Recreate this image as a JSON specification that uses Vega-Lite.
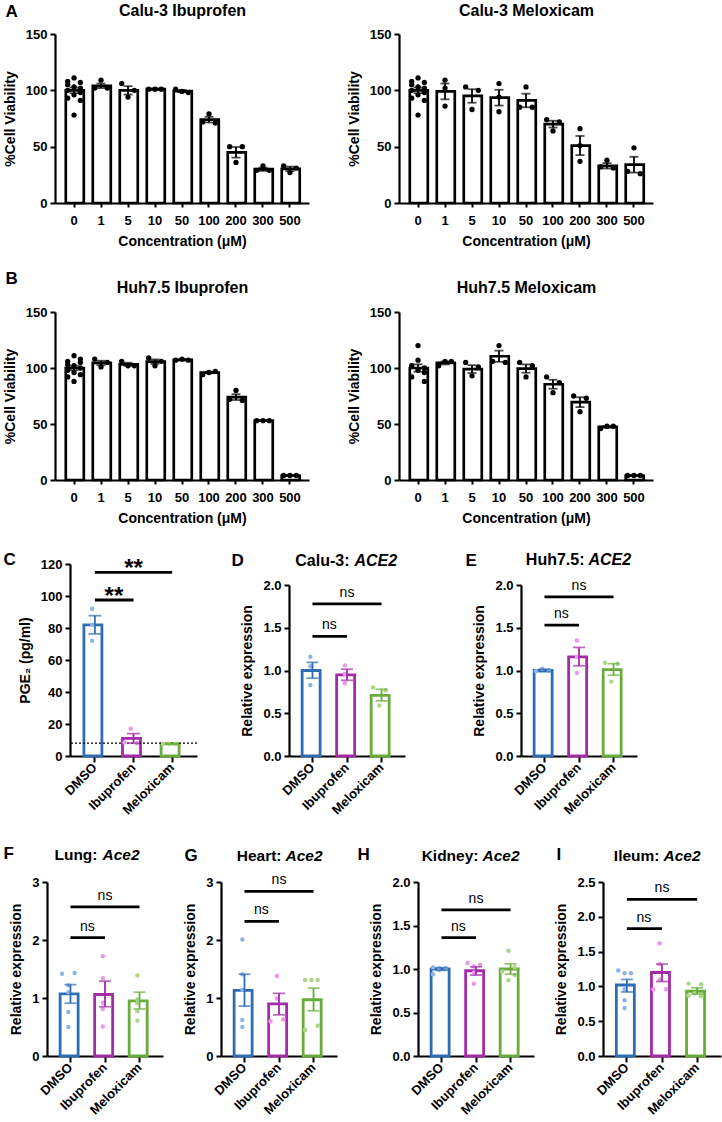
{
"$schema": "https://vega.github.io/schema/vega-lite/v6.json",
"background": "white",
"padding": {"left": 2, "top": 2, "right": 2, "bottom": 2},
"config": {
 "font": "Liberation Sans",
 "view": {"stroke": null},
 "axis": {"domainColor": "black", "domainWidth": 2.2, "tickColor": "black", "tickWidth": 2, "tickSize": 5, "labelFont": "Liberation Sans", "labelFontSize": 13, "labelFontWeight": "bold", "labelColor": "black", "labelPadding": 3, "titleFont": "Liberation Sans", "titleFontSize": 14, "titleFontWeight": "bold", "titleColor": "black", "titlePadding": 8, "grid": false, "labelOverlap": false}
},
"datasets": {
 "bars": [
  {"p":"A1","g":"0","m":100,"lo":97.5,"hi":102.5},{"p":"A1","g":"1","m":104,"lo":102,"hi":106},{"p":"A1","g":"5","m":100,"lo":96.3,"hi":103.7},{"p":"A1","g":"10","m":101,"lo":100.4,"hi":101.6},{"p":"A1","g":"50","m":99.3,"lo":98.3,"hi":100.3},{"p":"A1","g":"100","m":74,"lo":71.5,"hi":76.5},{"p":"A1","g":"200","m":45,"lo":40.3,"hi":49.7},{"p":"A1","g":"300","m":30,"lo":28.5,"hi":31.5},{"p":"A1","g":"500","m":30.3,"lo":28.3,"hi":32.3},
  {"p":"A2","g":"0","m":100,"lo":97.5,"hi":102.5},{"p":"A2","g":"1","m":99,"lo":92,"hi":106},{"p":"A2","g":"5","m":95,"lo":89,"hi":101},{"p":"A2","g":"10","m":93.5,"lo":86.5,"hi":100.5},{"p":"A2","g":"50","m":91,"lo":85,"hi":97},{"p":"A2","g":"100","m":70,"lo":67,"hi":73},{"p":"A2","g":"200","m":51,"lo":42.5,"hi":59.5},{"p":"A2","g":"300","m":33,"lo":30.6,"hi":35.4},{"p":"A2","g":"500","m":34,"lo":27,"hi":41},
  {"p":"B1","g":"0","m":100,"lo":98,"hi":102},{"p":"B1","g":"1","m":104.5,"lo":102.5,"hi":106.5},{"p":"B1","g":"5","m":103.3,"lo":101.9,"hi":104.7},{"p":"B1","g":"10","m":105.7,"lo":103.7,"hi":107.7},{"p":"B1","g":"50","m":107.3,"lo":106.8,"hi":107.8},{"p":"B1","g":"100","m":96,"lo":95.3,"hi":96.7},{"p":"B1","g":"200","m":74,"lo":71.4,"hi":76.6},{"p":"B1","g":"300","m":53,"lo":52.7,"hi":53.3},{"p":"B1","g":"500","m":4,"lo":3.8,"hi":4.2},
  {"p":"B2","g":"0","m":100,"lo":96.7,"hi":103.3},{"p":"B2","g":"1","m":104.5,"lo":103.2,"hi":105.8},{"p":"B2","g":"5","m":99,"lo":95.5,"hi":102.5},{"p":"B2","g":"10","m":110.5,"lo":105.5,"hi":115.5},{"p":"B2","g":"50","m":99.5,"lo":95.8,"hi":103.2},{"p":"B2","g":"100","m":85.5,"lo":81.5,"hi":89.5},{"p":"B2","g":"200","m":69.5,"lo":65.1,"hi":73.9},{"p":"B2","g":"300","m":47.5,"lo":46.8,"hi":48.2},{"p":"B2","g":"500","m":4,"lo":3.8,"hi":4.2},
  {"p":"C","g":"DMSO","m":82,"lo":76.3,"hi":87.7},{"p":"C","g":"Ibuprofen","m":11,"lo":8,"hi":14},{"p":"C","g":"Meloxicam","m":7.6,"lo":7.4,"hi":7.8},
  {"p":"D","g":"DMSO","m":1.0,"lo":0.91,"hi":1.095},{"p":"D","g":"Ibuprofen","m":0.95,"lo":0.885,"hi":1.015},{"p":"D","g":"Meloxicam","m":0.71,"lo":0.645,"hi":0.78},
  {"p":"E","g":"DMSO","m":1.0,"lo":0.985,"hi":1.015},{"p":"E","g":"Ibuprofen","m":1.16,"lo":1.055,"hi":1.27},{"p":"E","g":"Meloxicam","m":1.01,"lo":0.945,"hi":1.08},
  {"p":"F","g":"DMSO","m":1.07,"lo":0.91,"hi":1.23},{"p":"F","g":"Ibuprofen","m":1.06,"lo":0.85,"hi":1.29},{"p":"F","g":"Meloxicam","m":0.95,"lo":0.81,"hi":1.1},
  {"p":"G","g":"DMSO","m":1.13,"lo":0.86,"hi":1.41},{"p":"G","g":"Ibuprofen","m":0.9,"lo":0.71,"hi":1.08},{"p":"G","g":"Meloxicam","m":0.97,"lo":0.78,"hi":1.17},
  {"p":"H","g":"DMSO","m":1.0,"lo":0.985,"hi":1.015},{"p":"H","g":"Ibuprofen","m":0.98,"lo":0.93,"hi":1.025},{"p":"H","g":"Meloxicam","m":1.0,"lo":0.94,"hi":1.06},
  {"p":"I","g":"DMSO","m":1.02,"lo":0.92,"hi":1.1},{"p":"I","g":"Ibuprofen","m":1.2,"lo":1.07,"hi":1.32},{"p":"I","g":"Meloxicam","m":0.93,"lo":0.89,"hi":0.98}
 ],
 "pts": [
  {"p":"A1","g":"0","r":2,"v":111},{"p":"A1","g":"0","r":1,"v":108},{"p":"A1","g":"0","r":3,"v":107},{"p":"A1","g":"0","r":1,"v":105},{"p":"A1","g":"0","r":2,"v":103},{"p":"A1","g":"0","r":3,"v":102},{"p":"A1","g":"0","r":1,"v":100},{"p":"A1","g":"0","r":3,"v":98},{"p":"A1","g":"0","r":2,"v":96},{"p":"A1","g":"0","r":1,"v":93},{"p":"A1","g":"0","r":3,"v":91},{"p":"A1","g":"0","r":2,"v":78},
  {"p":"A1","g":"1","r":2,"v":109},{"p":"A1","g":"1","r":1,"v":102},{"p":"A1","g":"1","r":3,"v":102},
  {"p":"A1","g":"5","r":1,"v":106},{"p":"A1","g":"5","r":3,"v":100},{"p":"A1","g":"5","r":2,"v":94},
  {"p":"A1","g":"10","r":1,"v":101},{"p":"A1","g":"10","r":2,"v":101},{"p":"A1","g":"10","r":3,"v":101},
  {"p":"A1","g":"50","r":1,"v":101},{"p":"A1","g":"50","r":2,"v":99},{"p":"A1","g":"50","r":3,"v":98},
  {"p":"A1","g":"100","r":2,"v":79},{"p":"A1","g":"100","r":1,"v":72},{"p":"A1","g":"100","r":3,"v":71},
  {"p":"A1","g":"200","r":1,"v":50},{"p":"A1","g":"200","r":3,"v":50},{"p":"A1","g":"200","r":2,"v":36},
  {"p":"A1","g":"300","r":2,"v":33},{"p":"A1","g":"300","r":1,"v":29},{"p":"A1","g":"300","r":3,"v":29},
  {"p":"A1","g":"500","r":1,"v":33},{"p":"A1","g":"500","r":3,"v":31},{"p":"A1","g":"500","r":2,"v":27},
  {"p":"A2","g":"0","r":2,"v":111},{"p":"A2","g":"0","r":1,"v":108},{"p":"A2","g":"0","r":3,"v":107},{"p":"A2","g":"0","r":1,"v":105},{"p":"A2","g":"0","r":2,"v":103},{"p":"A2","g":"0","r":3,"v":102},{"p":"A2","g":"0","r":1,"v":100},{"p":"A2","g":"0","r":3,"v":98},{"p":"A2","g":"0","r":2,"v":96},{"p":"A2","g":"0","r":1,"v":93},{"p":"A2","g":"0","r":3,"v":91},{"p":"A2","g":"0","r":2,"v":78},
  {"p":"A2","g":"1","r":2,"v":109},{"p":"A2","g":"1","r":2,"v":102},{"p":"A2","g":"1","r":2,"v":86},
  {"p":"A2","g":"5","r":1,"v":103},{"p":"A2","g":"5","r":3,"v":100},{"p":"A2","g":"5","r":2,"v":83},
  {"p":"A2","g":"10","r":2,"v":106},{"p":"A2","g":"10","r":2,"v":94},{"p":"A2","g":"10","r":2,"v":81},
  {"p":"A2","g":"50","r":2,"v":103},{"p":"A2","g":"50","r":1,"v":85},{"p":"A2","g":"50","r":3,"v":85},
  {"p":"A2","g":"100","r":1,"v":74},{"p":"A2","g":"100","r":3,"v":72},{"p":"A2","g":"100","r":2,"v":64},
  {"p":"A2","g":"200","r":2,"v":66},{"p":"A2","g":"200","r":2,"v":51},{"p":"A2","g":"200","r":2,"v":37},
  {"p":"A2","g":"300","r":2,"v":38},{"p":"A2","g":"300","r":1,"v":32},{"p":"A2","g":"300","r":3,"v":31},
  {"p":"A2","g":"500","r":2,"v":49},{"p":"A2","g":"500","r":1,"v":28},{"p":"A2","g":"500","r":3,"v":26},
  {"p":"B1","g":"0","r":2,"v":111},{"p":"B1","g":"0","r":3,"v":108},{"p":"B1","g":"0","r":1,"v":106},{"p":"B1","g":"0","r":3,"v":105},{"p":"B1","g":"0","r":1,"v":103},{"p":"B1","g":"0","r":2,"v":102},{"p":"B1","g":"0","r":3,"v":100},{"p":"B1","g":"0","r":1,"v":98},{"p":"B1","g":"0","r":2,"v":96},{"p":"B1","g":"0","r":3,"v":94},{"p":"B1","g":"0","r":1,"v":92},{"p":"B1","g":"0","r":2,"v":88},
  {"p":"B1","g":"1","r":1,"v":108},{"p":"B1","g":"1","r":3,"v":105},{"p":"B1","g":"1","r":2,"v":101},
  {"p":"B1","g":"5","r":1,"v":106},{"p":"B1","g":"5","r":2,"v":102},{"p":"B1","g":"5","r":3,"v":102},
  {"p":"B1","g":"10","r":1,"v":109},{"p":"B1","g":"10","r":3,"v":106},{"p":"B1","g":"10","r":2,"v":102},
  {"p":"B1","g":"50","r":2,"v":108},{"p":"B1","g":"50","r":1,"v":107},{"p":"B1","g":"50","r":3,"v":107},
  {"p":"B1","g":"100","r":1,"v":94},{"p":"B1","g":"100","r":2,"v":96},{"p":"B1","g":"100","r":3,"v":97},
  {"p":"B1","g":"200","r":2,"v":80},{"p":"B1","g":"200","r":1,"v":72},{"p":"B1","g":"200","r":3,"v":71},
  {"p":"B1","g":"300","r":1,"v":53},{"p":"B1","g":"300","r":2,"v":53},{"p":"B1","g":"300","r":3,"v":53},
  {"p":"B1","g":"500","r":1,"v":4},{"p":"B1","g":"500","r":2,"v":4},{"p":"B1","g":"500","r":3,"v":4},
  {"p":"B2","g":"0","r":2,"v":120},{"p":"B2","g":"0","r":2,"v":107},{"p":"B2","g":"0","r":1,"v":102},{"p":"B2","g":"0","r":3,"v":100},{"p":"B2","g":"0","r":2,"v":98},{"p":"B2","g":"0","r":3,"v":96},{"p":"B2","g":"0","r":1,"v":92},{"p":"B2","g":"0","r":3,"v":88},
  {"p":"B2","g":"1","r":1,"v":102},{"p":"B2","g":"1","r":2,"v":106},{"p":"B2","g":"1","r":3,"v":106},
  {"p":"B2","g":"5","r":1,"v":105},{"p":"B2","g":"5","r":3,"v":101},{"p":"B2","g":"5","r":2,"v":93},
  {"p":"B2","g":"10","r":2,"v":120},{"p":"B2","g":"10","r":1,"v":106},{"p":"B2","g":"10","r":3,"v":105},
  {"p":"B2","g":"50","r":1,"v":105},{"p":"B2","g":"50","r":3,"v":102},{"p":"B2","g":"50","r":2,"v":92},
  {"p":"B2","g":"100","r":1,"v":92},{"p":"B2","g":"100","r":3,"v":87},{"p":"B2","g":"100","r":2,"v":78},
  {"p":"B2","g":"200","r":1,"v":75},{"p":"B2","g":"200","r":3,"v":73},{"p":"B2","g":"200","r":2,"v":61},
  {"p":"B2","g":"300","r":1,"v":46},{"p":"B2","g":"300","r":2,"v":48},{"p":"B2","g":"300","r":3,"v":48},
  {"p":"B2","g":"500","r":1,"v":4},{"p":"B2","g":"500","r":2,"v":4},{"p":"B2","g":"500","r":3,"v":4},
  {"p":"C","g":"DMSO","r":2,"v":92},{"p":"C","g":"DMSO","r":2,"v":82},{"p":"C","g":"DMSO","r":2,"v":72},
  {"p":"C","g":"Ibuprofen","r":2,"v":17},{"p":"C","g":"Ibuprofen","r":1,"v":8.5},{"p":"C","g":"Ibuprofen","r":3,"v":8},
  {"p":"C","g":"Meloxicam","r":1,"v":7.5},{"p":"C","g":"Meloxicam","r":2,"v":7.6},{"p":"C","g":"Meloxicam","r":3,"v":7.5},
  {"p":"D","g":"DMSO","r":2,"v":1.16},{"p":"D","g":"DMSO","r":2,"v":1.05},{"p":"D","g":"DMSO","r":2,"v":0.83},
  {"p":"D","g":"Ibuprofen","r":2,"v":1.06},{"p":"D","g":"Ibuprofen","r":2,"v":0.96},{"p":"D","g":"Ibuprofen","r":2,"v":0.85},
  {"p":"D","g":"Meloxicam","r":1,"v":0.8},{"p":"D","g":"Meloxicam","r":3,"v":0.77},{"p":"D","g":"Meloxicam","r":2,"v":0.59},
  {"p":"E","g":"DMSO","r":2,"v":1.02},{"p":"E","g":"DMSO","r":1,"v":0.99},{"p":"E","g":"DMSO","r":3,"v":1.0},
  {"p":"E","g":"Ibuprofen","r":2,"v":1.35},{"p":"E","g":"Ibuprofen","r":2,"v":1.16},{"p":"E","g":"Ibuprofen","r":2,"v":0.97},
  {"p":"E","g":"Meloxicam","r":1,"v":1.09},{"p":"E","g":"Meloxicam","r":3,"v":1.08},{"p":"E","g":"Meloxicam","r":2,"v":0.87},
  {"p":"F","g":"DMSO","r":1,"v":1.42},{"p":"F","g":"DMSO","r":3,"v":1.43},{"p":"F","g":"DMSO","r":2,"v":1.22},{"p":"F","g":"DMSO","r":2,"v":1.1},{"p":"F","g":"DMSO","r":2,"v":0.76},{"p":"F","g":"DMSO","r":2,"v":0.5},
  {"p":"F","g":"Ibuprofen","r":2,"v":1.72},{"p":"F","g":"Ibuprofen","r":2,"v":1.34},{"p":"F","g":"Ibuprofen","r":2,"v":0.92},{"p":"F","g":"Ibuprofen","r":2,"v":0.81},{"p":"F","g":"Ibuprofen","r":2,"v":0.51},
  {"p":"F","g":"Meloxicam","r":2,"v":1.39},{"p":"F","g":"Meloxicam","r":2,"v":0.98},{"p":"F","g":"Meloxicam","r":2,"v":0.91},{"p":"F","g":"Meloxicam","r":2,"v":0.77},{"p":"F","g":"Meloxicam","r":2,"v":0.61},
  {"p":"G","g":"DMSO","r":2,"v":2.01},{"p":"G","g":"DMSO","r":2,"v":1.41},{"p":"G","g":"DMSO","r":2,"v":1.14},{"p":"G","g":"DMSO","r":2,"v":0.62},{"p":"G","g":"DMSO","r":2,"v":0.5},
  {"p":"G","g":"Ibuprofen","r":2,"v":1.38},{"p":"G","g":"Ibuprofen","r":2,"v":0.99},{"p":"G","g":"Ibuprofen","r":3,"v":0.63},{"p":"G","g":"Ibuprofen","r":1,"v":0.6},
  {"p":"G","g":"Meloxicam","r":1,"v":1.31},{"p":"G","g":"Meloxicam","r":2,"v":1.31},{"p":"G","g":"Meloxicam","r":3,"v":1.31},{"p":"G","g":"Meloxicam","r":3,"v":0.52},{"p":"G","g":"Meloxicam","r":1,"v":0.45},
  {"p":"H","g":"DMSO","r":1,"v":1.02},{"p":"H","g":"DMSO","r":2,"v":1.01},{"p":"H","g":"DMSO","r":3,"v":1.01},{"p":"H","g":"DMSO","r":2,"v":0.99},{"p":"H","g":"DMSO","r":1,"v":0.94},
  {"p":"H","g":"Ibuprofen","r":1,"v":1.07},{"p":"H","g":"Ibuprofen","r":3,"v":1.05},{"p":"H","g":"Ibuprofen","r":2,"v":1.03},{"p":"H","g":"Ibuprofen","r":2,"v":0.96},{"p":"H","g":"Ibuprofen","r":2,"v":0.83},
  {"p":"H","g":"Meloxicam","r":2,"v":1.21},{"p":"H","g":"Meloxicam","r":3,"v":1.02},{"p":"H","g":"Meloxicam","r":1,"v":0.97},{"p":"H","g":"Meloxicam","r":3,"v":0.93},{"p":"H","g":"Meloxicam","r":2,"v":0.87},
  {"p":"I","g":"DMSO","r":1,"v":1.23},{"p":"I","g":"DMSO","r":2,"v":1.19},{"p":"I","g":"DMSO","r":3,"v":1.19},{"p":"I","g":"DMSO","r":2,"v":0.96},{"p":"I","g":"DMSO","r":2,"v":0.8},{"p":"I","g":"DMSO","r":2,"v":0.69},
  {"p":"I","g":"Ibuprofen","r":2,"v":1.62},{"p":"I","g":"Ibuprofen","r":2,"v":1.32},{"p":"I","g":"Ibuprofen","r":2,"v":1.1},{"p":"I","g":"Ibuprofen","r":1,"v":0.96},{"p":"I","g":"Ibuprofen","r":3,"v":0.96},
  {"p":"I","g":"Meloxicam","r":1,"v":1.04},{"p":"I","g":"Meloxicam","r":3,"v":1.03},{"p":"I","g":"Meloxicam","r":2,"v":0.9},{"p":"I","g":"Meloxicam","r":1,"v":0.87},{"p":"I","g":"Meloxicam","r":3,"v":0.86}
 ],
 "sig": [
  {"p":"C","g1":"DMSO","g2":"Meloxicam","gm":"Ibuprofen","k":"w","y":114.8,"t":"**"},{"p":"C","g1":"DMSO","g2":"Ibuprofen","gm":"DMSO","k":"n","y":97.5,"t":"**"},
  {"p":"D","g1":"DMSO","g2":"Meloxicam","gm":"Ibuprofen","k":"w","y":1.78,"t":"ns"},{"p":"D","g1":"DMSO","g2":"Ibuprofen","gm":"DMSO","k":"n","y":1.4,"t":"ns"},
  {"p":"E","g1":"DMSO","g2":"Meloxicam","gm":"Ibuprofen","k":"w","y":1.86,"t":"ns"},{"p":"E","g1":"DMSO","g2":"Ibuprofen","gm":"DMSO","k":"n","y":1.53,"t":"ns"},
  {"p":"F","g1":"DMSO","g2":"Meloxicam","gm":"Ibuprofen","k":"w","y":2.57,"t":"ns"},{"p":"F","g1":"DMSO","g2":"Ibuprofen","gm":"DMSO","k":"n","y":2.04,"t":"ns"},
  {"p":"G","g1":"DMSO","g2":"Meloxicam","gm":"Ibuprofen","k":"w","y":2.84,"t":"ns"},{"p":"G","g1":"DMSO","g2":"Ibuprofen","gm":"DMSO","k":"n","y":2.32,"t":"ns"},
  {"p":"H","g1":"DMSO","g2":"Meloxicam","gm":"Ibuprofen","k":"w","y":1.68,"t":"ns"},{"p":"H","g1":"DMSO","g2":"Ibuprofen","gm":"DMSO","k":"n","y":1.36,"t":"ns"},
  {"p":"I","g1":"DMSO","g2":"Meloxicam","gm":"Ibuprofen","k":"w","y":2.25,"t":"ns"},{"p":"I","g1":"DMSO","g2":"Ibuprofen","gm":"DMSO","k":"n","y":1.83,"t":"ns"}
 ],
 "lod": [{"p":"C","y":8}]
},
"spacing": 21,
"vconcat": [
 {"spacing": 0, "hconcat": [
  {"width": 1, "height": 1, "data": {"values": []}, "mark": "point"},
  {"spacing": 38, "hconcat": [
   {"width": 254, "height": 169, "resolve": {"axis": {"x": "independent", "y": "independent"}},
    "layer": [
     {"data": {"name": "bars"}, "transform": [{"filter": "datum.p == 'A1'"}], "mark": {"type": "bar", "fill": "white", "stroke": "black", "strokeWidth": 2.7},
      "encoding": {"x": {"field": "g", "type": "nominal", "scale": {"domain": ["0","1","5","10","50","100","200","300","500"], "paddingInner": 0.39, "paddingOuter": 0.4}, "axis": {"title": "Concentration (μM)", "labelAngle": 0, "tickSize": 4, "labelPadding": 7, "titlePadding": 7}},
       "y": {"field": "m", "type": "quantitative", "scale": {"domain": [0,150], "nice": false}, "axis": {"values": [0,50,100,150], "title": "%Cell Viability"}}}},
     {"data": {"name": "pts"}, "transform": [{"filter": "datum.p == 'A1'"}], "mark": {"type": "circle", "size": 28, "color": "black", "opacity": 1},
      "encoding": {"x": {"field": "g", "type": "nominal", "axis": {"orient": "top", "domain": false, "ticks": false, "labels": false, "title": "Calu-3 Ibuprofen", "titleFontSize": 16, "titleY": -19, "titleBaseline": "alphabetic"}},
       "xOffset": {"field": "r", "type": "nominal", "scale": {"domain": [1,2,3], "paddingOuter": 0.3}}, "y": {"field": "v", "type": "quantitative", "axis": null}}},
     {"data": {"name": "bars"}, "transform": [{"filter": "datum.p == 'A1'"}], "mark": {"type": "rule", "color": "black", "strokeWidth": 1.8},
      "encoding": {"x": {"field": "g", "type": "nominal", "axis": {"orient": "top", "domain": false, "ticks": false, "labels": false, "title": "A", "titleFontSize": 17, "titleX": -50, "titleY": -18, "titleAlign": "left", "titleBaseline": "alphabetic"}}, "y": {"field": "lo", "type": "quantitative", "axis": null}, "y2": {"field": "hi"}}},
     {"data": {"name": "bars"}, "transform": [{"filter": "datum.p == 'A1'"}, {"fold": ["lo","hi"], "as": ["cap","cv"]}], "mark": {"type": "tick", "orient": "horizontal", "size": 9, "thickness": 1.8, "color": "black"},
      "encoding": {"x": {"field": "g", "type": "nominal", "axis": null}, "y": {"field": "cv", "type": "quantitative", "axis": null}}}
    ]},
   {"width": 254, "height": 169, "resolve": {"axis": {"x": "independent", "y": "independent"}},
    "layer": [
     {"data": {"name": "bars"}, "transform": [{"filter": "datum.p == 'A2'"}], "mark": {"type": "bar", "fill": "white", "stroke": "black", "strokeWidth": 2.7},
      "encoding": {"x": {"field": "g", "type": "nominal", "scale": {"domain": ["0","1","5","10","50","100","200","300","500"], "paddingInner": 0.39, "paddingOuter": 0.4}, "axis": {"title": "Concentration (μM)", "labelAngle": 0, "tickSize": 4, "labelPadding": 7, "titlePadding": 7}},
       "y": {"field": "m", "type": "quantitative", "scale": {"domain": [0,150], "nice": false}, "axis": {"values": [0,50,100,150], "title": "%Cell Viability"}}}},
     {"data": {"name": "pts"}, "transform": [{"filter": "datum.p == 'A2'"}], "mark": {"type": "circle", "size": 28, "color": "black", "opacity": 1},
      "encoding": {"x": {"field": "g", "type": "nominal", "axis": {"orient": "top", "domain": false, "ticks": false, "labels": false, "title": "Calu-3 Meloxicam", "titleFontSize": 16, "titleY": -19, "titleBaseline": "alphabetic"}},
       "xOffset": {"field": "r", "type": "nominal", "scale": {"domain": [1,2,3], "paddingOuter": 0.3}}, "y": {"field": "v", "type": "quantitative", "axis": null}}},
     {"data": {"name": "bars"}, "transform": [{"filter": "datum.p == 'A2'"}], "mark": {"type": "rule", "color": "black", "strokeWidth": 1.8},
      "encoding": {"x": {"field": "g", "type": "nominal", "axis": null}, "y": {"field": "lo", "type": "quantitative", "axis": null}, "y2": {"field": "hi"}}},
     {"data": {"name": "bars"}, "transform": [{"filter": "datum.p == 'A2'"}, {"fold": ["lo","hi"], "as": ["cap","cv"]}], "mark": {"type": "tick", "orient": "horizontal", "size": 9, "thickness": 1.8, "color": "black"},
      "encoding": {"x": {"field": "g", "type": "nominal", "axis": null}, "y": {"field": "cv", "type": "quantitative", "axis": null}}}
    ]}
  ]}
 ]},
 {"spacing": 25, "vconcat": [
 {"spacing": 0, "hconcat": [
  {"width": 1, "height": 1, "data": {"values": []}, "mark": "point"},
  {"spacing": 38, "hconcat": [
   {"width": 254, "height": 168, "resolve": {"axis": {"x": "independent", "y": "independent"}},
    "layer": [
     {"data": {"name": "bars"}, "transform": [{"filter": "datum.p == 'B1'"}], "mark": {"type": "bar", "fill": "white", "stroke": "black", "strokeWidth": 2.7},
      "encoding": {"x": {"field": "g", "type": "nominal", "scale": {"domain": ["0","1","5","10","50","100","200","300","500"], "paddingInner": 0.39, "paddingOuter": 0.4}, "axis": {"title": "Concentration (μM)", "labelAngle": 0, "tickSize": 4, "labelPadding": 7, "titlePadding": 7}},
       "y": {"field": "m", "type": "quantitative", "scale": {"domain": [0,150], "nice": false}, "axis": {"values": [0,50,100,150], "title": "%Cell Viability"}}}},
     {"data": {"name": "pts"}, "transform": [{"filter": "datum.p == 'B1'"}], "mark": {"type": "circle", "size": 28, "color": "black", "opacity": 1},
      "encoding": {"x": {"field": "g", "type": "nominal", "axis": {"orient": "top", "domain": false, "ticks": false, "labels": false, "title": "Huh7.5 Ibuprofen", "titleFontSize": 16, "titleY": -20, "titleBaseline": "alphabetic"}},
       "xOffset": {"field": "r", "type": "nominal", "scale": {"domain": [1,2,3], "paddingOuter": 0.3}}, "y": {"field": "v", "type": "quantitative", "axis": null}}},
     {"data": {"name": "bars"}, "transform": [{"filter": "datum.p == 'B1'"}], "mark": {"type": "rule", "color": "black", "strokeWidth": 1.8},
      "encoding": {"x": {"field": "g", "type": "nominal", "axis": {"orient": "top", "domain": false, "ticks": false, "labels": false, "title": "B", "titleFontSize": 17, "titleX": -50, "titleY": -29, "titleAlign": "left", "titleBaseline": "alphabetic"}}, "y": {"field": "lo", "type": "quantitative", "axis": null}, "y2": {"field": "hi"}}},
     {"data": {"name": "bars"}, "transform": [{"filter": "datum.p == 'B1'"}, {"fold": ["lo","hi"], "as": ["cap","cv"]}], "mark": {"type": "tick", "orient": "horizontal", "size": 9, "thickness": 1.8, "color": "black"},
      "encoding": {"x": {"field": "g", "type": "nominal", "axis": null}, "y": {"field": "cv", "type": "quantitative", "axis": null}}}
    ]},
   {"width": 254, "height": 168, "resolve": {"axis": {"x": "independent", "y": "independent"}},
    "layer": [
     {"data": {"name": "bars"}, "transform": [{"filter": "datum.p == 'B2'"}], "mark": {"type": "bar", "fill": "white", "stroke": "black", "strokeWidth": 2.7},
      "encoding": {"x": {"field": "g", "type": "nominal", "scale": {"domain": ["0","1","5","10","50","100","200","300","500"], "paddingInner": 0.39, "paddingOuter": 0.4}, "axis": {"title": "Concentration (μM)", "labelAngle": 0, "tickSize": 4, "labelPadding": 7, "titlePadding": 7}},
       "y": {"field": "m", "type": "quantitative", "scale": {"domain": [0,150], "nice": false}, "axis": {"values": [0,50,100,150], "title": "%Cell Viability"}}}},
     {"data": {"name": "pts"}, "transform": [{"filter": "datum.p == 'B2'"}], "mark": {"type": "circle", "size": 28, "color": "black", "opacity": 1},
      "encoding": {"x": {"field": "g", "type": "nominal", "axis": {"orient": "top", "domain": false, "ticks": false, "labels": false, "title": "Huh7.5 Meloxicam", "titleFontSize": 16, "titleY": -20, "titleBaseline": "alphabetic"}},
       "xOffset": {"field": "r", "type": "nominal", "scale": {"domain": [1,2,3], "paddingOuter": 0.3}}, "y": {"field": "v", "type": "quantitative", "axis": null}}},
     {"data": {"name": "bars"}, "transform": [{"filter": "datum.p == 'B2'"}], "mark": {"type": "rule", "color": "black", "strokeWidth": 1.8},
      "encoding": {"x": {"field": "g", "type": "nominal", "axis": null}, "y": {"field": "lo", "type": "quantitative", "axis": null}, "y2": {"field": "hi"}}},
     {"data": {"name": "bars"}, "transform": [{"filter": "datum.p == 'B2'"}, {"fold": ["lo","hi"], "as": ["cap","cv"]}], "mark": {"type": "tick", "orient": "horizontal", "size": 9, "thickness": 1.8, "color": "black"},
      "encoding": {"x": {"field": "g", "type": "nominal", "axis": null}, "y": {"field": "cv", "type": "quantitative", "axis": null}}}
    ]}
  ]}
 ]},
 {"spacing": 27, "vconcat": [
 {"spacing": 0, "hconcat": [
  {"width": 1, "height": 1, "data": {"values": []}, "mark": "point"},
  {"spacing": 33, "hconcat": [
   {"width": 127, "height": 192, "resolve": {"axis": {"x": "independent", "y": "independent"}},
    "layer": [
     {"data": {"name": "bars"}, "transform": [{"filter": "datum.p == 'C'"}], "mark": {"type": "bar", "fill": "white", "strokeWidth": 2.8},
      "encoding": {"x": {"field": "g", "type": "nominal", "scale": {"domain": ["DMSO","Ibuprofen","Meloxicam"], "paddingInner": 0.43, "paddingOuter": 0.36}, "axis": {"title": null, "labelAngle": -45, "labelAlign": "right", "labelBaseline": "middle", "tickSize": 6, "labelPadding": 3}},
       "y": {"field": "m", "type": "quantitative", "scale": {"domain": [0,120], "nice": false}, "axis": {"values": [0,20,40,60,80,100,120], "title": "PGE₂ (pg/ml)"}},
       "stroke": {"field": "g", "type": "nominal", "scale": {"domain": ["DMSO","Ibuprofen","Meloxicam"], "range": ["#2E6DB4","#A22BA6","#6AAC3C"]}, "legend": null}}},
     {"data": {"name": "lod"}, "transform": [{"filter": "datum.p == 'C'"}], "mark": {"type": "rule", "color": "black", "strokeWidth": 1.3, "strokeDash": [2,2]},
      "encoding": {"y": {"field": "y", "type": "quantitative", "axis": null}}},
     {"data": {"name": "pts"}, "transform": [{"filter": "datum.p == 'C'"}], "mark": {"type": "circle", "size": 20, "opacity": 1},
      "encoding": {"x": {"field": "g", "type": "nominal", "axis": null}, "xOffset": {"field": "r", "type": "nominal", "scale": {"domain": [1,2,3], "paddingOuter": 0.3}}, "y": {"field": "v", "type": "quantitative", "axis": null},
       "fill": {"field": "g", "type": "nominal", "scale": {"domain": ["DMSO","Ibuprofen","Meloxicam"], "range": ["#8FB5E3","#EA98EA","#AED686"]}, "legend": null}}},
     {"data": {"name": "bars"}, "transform": [{"filter": "datum.p == 'C'"}], "mark": {"type": "rule", "strokeWidth": 1.8},
      "encoding": {"x": {"field": "g", "type": "nominal", "axis": {"orient": "top", "domain": false, "ticks": false, "labels": false, "title": "C", "titleFontSize": 17, "titleX": -67, "titleY": 0, "titleAlign": "left", "titleBaseline": "alphabetic"}}, "y": {"field": "lo", "type": "quantitative", "axis": null}, "y2": {"field": "hi"},
       "color": {"field": "g", "type": "nominal", "scale": {"domain": ["DMSO","Ibuprofen","Meloxicam"], "range": ["#2E6DB4","#A22BA6","#6AAC3C"]}, "legend": null}}},
     {"data": {"name": "bars"}, "transform": [{"filter": "datum.p == 'C'"}, {"fold": ["lo","hi"], "as": ["cap","cv"]}], "mark": {"type": "tick", "orient": "horizontal", "size": 13, "thickness": 1.8},
      "encoding": {"x": {"field": "g", "type": "nominal", "axis": null}, "y": {"field": "cv", "type": "quantitative", "axis": null},
       "color": {"field": "g", "type": "nominal", "scale": {"domain": ["DMSO","Ibuprofen","Meloxicam"], "range": ["#2E6DB4","#A22BA6","#6AAC3C"]}, "legend": null}}},
     {"data": {"name": "sig"}, "transform": [{"filter": "datum.p == 'C'"}], "mark": {"type": "rule", "color": "black", "strokeWidth": 2.8},
      "encoding": {"x": {"field": "g1", "type": "nominal", "axis": null}, "x2": {"field": "g2"}, "y": {"field": "y", "type": "quantitative", "axis": null}}},
     {"data": {"name": "sig"}, "transform": [{"filter": "datum.p == 'C' && datum.k == 'w'"}], "mark": {"type": "text", "font": "Liberation Sans", "fontSize": 24, "fontWeight": "bold", "baseline": "alphabetic", "dy": 4, "color": "black"},
      "encoding": {"x": {"field": "gm", "type": "nominal", "axis": null}, "y": {"field": "y", "type": "quantitative", "axis": null}, "text": {"field": "t"}}},
     {"data": {"name": "sig"}, "transform": [{"filter": "datum.p == 'C' && datum.k == 'n'"}], "mark": {"type": "text", "font": "Liberation Sans", "fontSize": 24, "fontWeight": "bold", "baseline": "alphabetic", "dy": 4, "dx": 19, "color": "black"},
      "encoding": {"x": {"field": "gm", "type": "nominal", "axis": null}, "y": {"field": "y", "type": "quantitative", "axis": null}, "text": {"field": "t"}}}
    ]},
   {"spacing": 60, "hconcat": [
    {"width": 116, "height": 192, "resolve": {"axis": {"x": "independent", "y": "independent"}},
     "layer": [
      {"data": {"name": "bars"}, "transform": [{"filter": "datum.p == 'D'"}], "mark": {"type": "bar", "fill": "white", "strokeWidth": 2.8},
       "encoding": {"x": {"field": "g", "type": "nominal", "scale": {"domain": ["DMSO","Ibuprofen","Meloxicam"], "paddingInner": 0.4, "paddingOuter": 0.38}, "axis": {"title": null, "labelAngle": -45, "labelAlign": "right", "labelBaseline": "middle", "tickSize": 6, "labelPadding": 3}},
        "y": {"field": "m", "type": "quantitative", "scale": {"domain": [0,2], "nice": false, "range": [192,21]}, "axis": {"values": [0,0.5,1,1.5,2], "format": ".1f", "title": "Relative expression"}},
        "stroke": {"field": "g", "type": "nominal", "scale": {"domain": ["DMSO","Ibuprofen","Meloxicam"], "range": ["#2E6DB4","#A22BA6","#6AAC3C"]}, "legend": null}}},
      {"data": {"name": "pts"}, "transform": [{"filter": "datum.p == 'D'"}], "mark": {"type": "circle", "size": 20, "opacity": 1},
       "encoding": {"x": {"field": "g", "type": "nominal", "axis": {"orient": "top", "domain": false, "ticks": false, "labels": false, "title": "Calu-3:", "titleFontSize": 16, "titleX": 60, "titleY": 1, "titleAlign": "right", "titleBaseline": "alphabetic"}},
        "xOffset": {"field": "r", "type": "nominal", "scale": {"domain": [1,2,3], "paddingOuter": 0.3}}, "y": {"field": "v", "type": "quantitative", "axis": null},
        "fill": {"field": "g", "type": "nominal", "scale": {"domain": ["DMSO","Ibuprofen","Meloxicam"], "range": ["#8FB5E3","#EA98EA","#AED686"]}, "legend": null}}},
      {"data": {"name": "bars"}, "transform": [{"filter": "datum.p == 'D'"}], "mark": {"type": "rule", "strokeWidth": 1.8},
       "encoding": {"x": {"field": "g", "type": "nominal", "axis": {"orient": "top", "domain": false, "ticks": false, "labels": false, "title": "D", "titleFontSize": 17, "titleX": -58, "titleY": 1, "titleAlign": "left", "titleBaseline": "alphabetic"}}, "y": {"field": "lo", "type": "quantitative", "axis": null}, "y2": {"field": "hi"},
        "color": {"field": "g", "type": "nominal", "scale": {"domain": ["DMSO","Ibuprofen","Meloxicam"], "range": ["#2E6DB4","#A22BA6","#6AAC3C"]}, "legend": null}}},
      {"data": {"name": "bars"}, "transform": [{"filter": "datum.p == 'D'"}, {"fold": ["lo","hi"], "as": ["cap","cv"]}], "mark": {"type": "tick", "orient": "horizontal", "size": 12, "thickness": 1.8},
       "encoding": {"x": {"field": "g", "type": "nominal", "axis": null}, "y": {"field": "cv", "type": "quantitative", "axis": null},
        "color": {"field": "g", "type": "nominal", "scale": {"domain": ["DMSO","Ibuprofen","Meloxicam"], "range": ["#2E6DB4","#A22BA6","#6AAC3C"]}, "legend": null}}},
      {"data": {"name": "sig"}, "transform": [{"filter": "datum.p == 'D'"}], "mark": {"type": "rule", "color": "black", "strokeWidth": 2.8},
       "encoding": {"x": {"field": "g1", "type": "nominal", "axis": {"orient": "top", "domain": false, "ticks": false, "labels": false, "title": "ACE2", "titleFontSize": 16, "titleFontStyle": "italic", "titleX": 65, "titleY": 1, "titleAlign": "left", "titleBaseline": "alphabetic"}}, "x2": {"field": "g2"}, "y": {"field": "y", "type": "quantitative", "axis": null}}},
      {"data": {"name": "sig"}, "transform": [{"filter": "datum.p == 'D' && datum.k == 'w'"}], "mark": {"type": "text", "font": "Liberation Sans", "fontSize": 14, "baseline": "alphabetic", "dy": -7, "color": "black"},
       "encoding": {"x": {"field": "gm", "type": "nominal", "axis": null}, "y": {"field": "y", "type": "quantitative", "axis": null}, "text": {"field": "t"}}},
      {"data": {"name": "sig"}, "transform": [{"filter": "datum.p == 'D' && datum.k == 'n'"}], "mark": {"type": "text", "font": "Liberation Sans", "fontSize": 14, "baseline": "alphabetic", "dy": -7, "dx": 17, "color": "black"},
       "encoding": {"x": {"field": "gm", "type": "nominal", "axis": null}, "y": {"field": "y", "type": "quantitative", "axis": null}, "text": {"field": "t"}}}
     ]},
    {"width": 116, "height": 192, "resolve": {"axis": {"x": "independent", "y": "independent"}},
     "layer": [
      {"data": {"name": "bars"}, "transform": [{"filter": "datum.p == 'E'"}], "mark": {"type": "bar", "fill": "white", "strokeWidth": 2.8},
       "encoding": {"x": {"field": "g", "type": "nominal", "scale": {"domain": ["DMSO","Ibuprofen","Meloxicam"], "paddingInner": 0.4, "paddingOuter": 0.38}, "axis": {"title": null, "labelAngle": -45, "labelAlign": "right", "labelBaseline": "middle", "tickSize": 6, "labelPadding": 3}},
        "y": {"field": "m", "type": "quantitative", "scale": {"domain": [0,2], "nice": false, "range": [192,21]}, "axis": {"values": [0,0.5,1,1.5,2], "format": ".1f", "title": "Relative expression"}},
        "stroke": {"field": "g", "type": "nominal", "scale": {"domain": ["DMSO","Ibuprofen","Meloxicam"], "range": ["#2E6DB4","#A22BA6","#6AAC3C"]}, "legend": null}}},
      {"data": {"name": "pts"}, "transform": [{"filter": "datum.p == 'E'"}], "mark": {"type": "circle", "size": 20, "opacity": 1},
       "encoding": {"x": {"field": "g", "type": "nominal", "axis": {"orient": "top", "domain": false, "ticks": false, "labels": false, "title": "Huh7.5:", "titleFontSize": 16, "titleX": 63, "titleY": 0, "titleAlign": "right", "titleBaseline": "alphabetic"}},
        "xOffset": {"field": "r", "type": "nominal", "scale": {"domain": [1,2,3], "paddingOuter": 0.3}}, "y": {"field": "v", "type": "quantitative", "axis": null},
        "fill": {"field": "g", "type": "nominal", "scale": {"domain": ["DMSO","Ibuprofen","Meloxicam"], "range": ["#8FB5E3","#EA98EA","#AED686"]}, "legend": null}}},
      {"data": {"name": "bars"}, "transform": [{"filter": "datum.p == 'E'"}], "mark": {"type": "rule", "strokeWidth": 1.8},
       "encoding": {"x": {"field": "g", "type": "nominal", "axis": {"orient": "top", "domain": false, "ticks": false, "labels": false, "title": "E", "titleFontSize": 17, "titleX": -56, "titleY": 1, "titleAlign": "left", "titleBaseline": "alphabetic"}}, "y": {"field": "lo", "type": "quantitative", "axis": null}, "y2": {"field": "hi"},
        "color": {"field": "g", "type": "nominal", "scale": {"domain": ["DMSO","Ibuprofen","Meloxicam"], "range": ["#2E6DB4","#A22BA6","#6AAC3C"]}, "legend": null}}},
      {"data": {"name": "bars"}, "transform": [{"filter": "datum.p == 'E'"}, {"fold": ["lo","hi"], "as": ["cap","cv"]}], "mark": {"type": "tick", "orient": "horizontal", "size": 12, "thickness": 1.8},
       "encoding": {"x": {"field": "g", "type": "nominal", "axis": null}, "y": {"field": "cv", "type": "quantitative", "axis": null},
        "color": {"field": "g", "type": "nominal", "scale": {"domain": ["DMSO","Ibuprofen","Meloxicam"], "range": ["#2E6DB4","#A22BA6","#6AAC3C"]}, "legend": null}}},
      {"data": {"name": "sig"}, "transform": [{"filter": "datum.p == 'E'"}], "mark": {"type": "rule", "color": "black", "strokeWidth": 2.8},
       "encoding": {"x": {"field": "g1", "type": "nominal", "axis": {"orient": "top", "domain": false, "ticks": false, "labels": false, "title": "ACE2", "titleFontSize": 16, "titleFontStyle": "italic", "titleX": 67, "titleY": 0, "titleAlign": "left", "titleBaseline": "alphabetic"}}, "x2": {"field": "g2"}, "y": {"field": "y", "type": "quantitative", "axis": null}}},
      {"data": {"name": "sig"}, "transform": [{"filter": "datum.p == 'E' && datum.k == 'w'"}], "mark": {"type": "text", "font": "Liberation Sans", "fontSize": 14, "baseline": "alphabetic", "dy": -7, "color": "black"},
       "encoding": {"x": {"field": "gm", "type": "nominal", "axis": null}, "y": {"field": "y", "type": "quantitative", "axis": null}, "text": {"field": "t"}}},
      {"data": {"name": "sig"}, "transform": [{"filter": "datum.p == 'E' && datum.k == 'n'"}], "mark": {"type": "text", "font": "Liberation Sans", "fontSize": 14, "baseline": "alphabetic", "dy": -7, "dx": 17, "color": "black"},
       "encoding": {"x": {"field": "gm", "type": "nominal", "axis": null}, "y": {"field": "y", "type": "quantitative", "axis": null}, "text": {"field": "t"}}}
     ]}
   ]}
  ]}
 ]},
 {"spacing": 0, "hconcat": [
  {"width": 1, "height": 1, "data": {"values": []}, "mark": "point"},
  {"spacing": 20, "hconcat": [
   {"width": 116, "height": 174, "resolve": {"axis": {"x": "independent", "y": "independent"}},
    "layer": [
     {"data": {"name": "bars"}, "transform": [{"filter": "datum.p == 'F'"}], "mark": {"type": "bar", "fill": "white", "strokeWidth": 2.8},
      "encoding": {"x": {"field": "g", "type": "nominal", "scale": {"domain": ["DMSO","Ibuprofen","Meloxicam"], "paddingInner": 0.4, "paddingOuter": 0.38}, "axis": {"title": null, "labelAngle": -45, "labelAlign": "right", "labelBaseline": "middle", "tickSize": 6, "labelPadding": 3}},
       "y": {"field": "m", "type": "quantitative", "scale": {"domain": [0,3], "nice": false}, "axis": {"values": [0,1,2,3], "title": "Relative expression"}},
       "stroke": {"field": "g", "type": "nominal", "scale": {"domain": ["DMSO","Ibuprofen","Meloxicam"], "range": ["#2E6DB4","#A22BA6","#6AAC3C"]}, "legend": null}}},
     {"data": {"name": "pts"}, "transform": [{"filter": "datum.p == 'F'"}], "mark": {"type": "circle", "size": 20, "opacity": 1},
      "encoding": {"x": {"field": "g", "type": "nominal", "axis": {"orient": "top", "domain": false, "ticks": false, "labels": false, "title": "Lung:", "titleFontSize": 15.5, "titleX": 50, "titleY": -23, "titleAlign": "right", "titleBaseline": "alphabetic"}},
       "xOffset": {"field": "r", "type": "nominal", "scale": {"domain": [1,2,3], "paddingOuter": 0.3}}, "y": {"field": "v", "type": "quantitative", "axis": null},
       "fill": {"field": "g", "type": "nominal", "scale": {"domain": ["DMSO","Ibuprofen","Meloxicam"], "range": ["#8FB5E3","#EA98EA","#AED686"]}, "legend": null}}},
     {"data": {"name": "bars"}, "transform": [{"filter": "datum.p == 'F'"}], "mark": {"type": "rule", "strokeWidth": 1.8},
      "encoding": {"x": {"field": "g", "type": "nominal", "axis": {"orient": "top", "domain": false, "ticks": false, "labels": false, "title": "F", "titleFontSize": 17, "titleX": -44, "titleY": -24, "titleAlign": "left", "titleBaseline": "alphabetic"}}, "y": {"field": "lo", "type": "quantitative", "axis": null}, "y2": {"field": "hi"},
       "color": {"field": "g", "type": "nominal", "scale": {"domain": ["DMSO","Ibuprofen","Meloxicam"], "range": ["#2E6DB4","#A22BA6","#6AAC3C"]}, "legend": null}}},
     {"data": {"name": "bars"}, "transform": [{"filter": "datum.p == 'F'"}, {"fold": ["lo","hi"], "as": ["cap","cv"]}], "mark": {"type": "tick", "orient": "horizontal", "size": 12, "thickness": 1.8},
      "encoding": {"x": {"field": "g", "type": "nominal", "axis": null}, "y": {"field": "cv", "type": "quantitative", "axis": null},
       "color": {"field": "g", "type": "nominal", "scale": {"domain": ["DMSO","Ibuprofen","Meloxicam"], "range": ["#2E6DB4","#A22BA6","#6AAC3C"]}, "legend": null}}},
     {"data": {"name": "sig"}, "transform": [{"filter": "datum.p == 'F'"}], "mark": {"type": "rule", "color": "black", "strokeWidth": 2.8},
      "encoding": {"x": {"field": "g1", "type": "nominal", "axis": {"orient": "top", "domain": false, "ticks": false, "labels": false, "title": "Ace2", "titleFontSize": 15.5, "titleFontStyle": "italic", "titleX": 55, "titleY": -23, "titleAlign": "left", "titleBaseline": "alphabetic"}}, "x2": {"field": "g2"}, "y": {"field": "y", "type": "quantitative", "axis": null}}},
     {"data": {"name": "sig"}, "transform": [{"filter": "datum.p == 'F' && datum.k == 'w'"}], "mark": {"type": "text", "font": "Liberation Sans", "fontSize": 14, "baseline": "alphabetic", "dy": -7, "color": "black"},
      "encoding": {"x": {"field": "gm", "type": "nominal", "axis": null}, "y": {"field": "y", "type": "quantitative", "axis": null}, "text": {"field": "t"}}},
     {"data": {"name": "sig"}, "transform": [{"filter": "datum.p == 'F' && datum.k == 'n'"}], "mark": {"type": "text", "font": "Liberation Sans", "fontSize": 14, "baseline": "alphabetic", "dy": -7, "dx": 17, "color": "black"},
      "encoding": {"x": {"field": "gm", "type": "nominal", "axis": null}, "y": {"field": "y", "type": "quantitative", "axis": null}, "text": {"field": "t"}}}
    ]},
   {"width": 116, "height": 174, "resolve": {"axis": {"x": "independent", "y": "independent"}},
    "layer": [
     {"data": {"name": "bars"}, "transform": [{"filter": "datum.p == 'G'"}], "mark": {"type": "bar", "fill": "white", "strokeWidth": 2.8},
      "encoding": {"x": {"field": "g", "type": "nominal", "scale": {"domain": ["DMSO","Ibuprofen","Meloxicam"], "paddingInner": 0.4, "paddingOuter": 0.38}, "axis": {"title": null, "labelAngle": -45, "labelAlign": "right", "labelBaseline": "middle", "tickSize": 6, "labelPadding": 3}},
       "y": {"field": "m", "type": "quantitative", "scale": {"domain": [0,3], "nice": false}, "axis": {"values": [0,1,2,3], "title": "Relative expression"}},
       "stroke": {"field": "g", "type": "nominal", "scale": {"domain": ["DMSO","Ibuprofen","Meloxicam"], "range": ["#2E6DB4","#A22BA6","#6AAC3C"]}, "legend": null}}},
     {"data": {"name": "pts"}, "transform": [{"filter": "datum.p == 'G'"}], "mark": {"type": "circle", "size": 20, "opacity": 1},
      "encoding": {"x": {"field": "g", "type": "nominal", "axis": {"orient": "top", "domain": false, "ticks": false, "labels": false, "title": "Heart:", "titleFontSize": 15.5, "titleX": 60, "titleY": -22, "titleAlign": "right", "titleBaseline": "alphabetic"}},
       "xOffset": {"field": "r", "type": "nominal", "scale": {"domain": [1,2,3], "paddingOuter": 0.3}}, "y": {"field": "v", "type": "quantitative", "axis": null},
       "fill": {"field": "g", "type": "nominal", "scale": {"domain": ["DMSO","Ibuprofen","Meloxicam"], "range": ["#8FB5E3","#EA98EA","#AED686"]}, "legend": null}}},
     {"data": {"name": "bars"}, "transform": [{"filter": "datum.p == 'G'"}], "mark": {"type": "rule", "strokeWidth": 1.8},
      "encoding": {"x": {"field": "g", "type": "nominal", "axis": {"orient": "top", "domain": false, "ticks": false, "labels": false, "title": "G", "titleFontSize": 17, "titleX": -37, "titleY": -22, "titleAlign": "left", "titleBaseline": "alphabetic"}}, "y": {"field": "lo", "type": "quantitative", "axis": null}, "y2": {"field": "hi"},
       "color": {"field": "g", "type": "nominal", "scale": {"domain": ["DMSO","Ibuprofen","Meloxicam"], "range": ["#2E6DB4","#A22BA6","#6AAC3C"]}, "legend": null}}},
     {"data": {"name": "bars"}, "transform": [{"filter": "datum.p == 'G'"}, {"fold": ["lo","hi"], "as": ["cap","cv"]}], "mark": {"type": "tick", "orient": "horizontal", "size": 12, "thickness": 1.8},
      "encoding": {"x": {"field": "g", "type": "nominal", "axis": null}, "y": {"field": "cv", "type": "quantitative", "axis": null},
       "color": {"field": "g", "type": "nominal", "scale": {"domain": ["DMSO","Ibuprofen","Meloxicam"], "range": ["#2E6DB4","#A22BA6","#6AAC3C"]}, "legend": null}}},
     {"data": {"name": "sig"}, "transform": [{"filter": "datum.p == 'G'"}], "mark": {"type": "rule", "color": "black", "strokeWidth": 2.8},
      "encoding": {"x": {"field": "g1", "type": "nominal", "axis": {"orient": "top", "domain": false, "ticks": false, "labels": false, "title": "Ace2", "titleFontSize": 15.5, "titleFontStyle": "italic", "titleX": 64, "titleY": -22, "titleAlign": "left", "titleBaseline": "alphabetic"}}, "x2": {"field": "g2"}, "y": {"field": "y", "type": "quantitative", "axis": null}}},
     {"data": {"name": "sig"}, "transform": [{"filter": "datum.p == 'G' && datum.k == 'w'"}], "mark": {"type": "text", "font": "Liberation Sans", "fontSize": 14, "baseline": "alphabetic", "dy": -7, "color": "black"},
      "encoding": {"x": {"field": "gm", "type": "nominal", "axis": null}, "y": {"field": "y", "type": "quantitative", "axis": null}, "text": {"field": "t"}}},
     {"data": {"name": "sig"}, "transform": [{"filter": "datum.p == 'G' && datum.k == 'n'"}], "mark": {"type": "text", "font": "Liberation Sans", "fontSize": 14, "baseline": "alphabetic", "dy": -7, "dx": 17, "color": "black"},
      "encoding": {"x": {"field": "gm", "type": "nominal", "axis": null}, "y": {"field": "y", "type": "quantitative", "axis": null}, "text": {"field": "t"}}}
    ]},
   {"width": 116, "height": 174, "resolve": {"axis": {"x": "independent", "y": "independent"}},
    "layer": [
     {"data": {"name": "bars"}, "transform": [{"filter": "datum.p == 'H'"}], "mark": {"type": "bar", "fill": "white", "strokeWidth": 2.8},
      "encoding": {"x": {"field": "g", "type": "nominal", "scale": {"domain": ["DMSO","Ibuprofen","Meloxicam"], "paddingInner": 0.4, "paddingOuter": 0.38}, "axis": {"title": null, "labelAngle": -45, "labelAlign": "right", "labelBaseline": "middle", "tickSize": 6, "labelPadding": 3}},
       "y": {"field": "m", "type": "quantitative", "scale": {"domain": [0,2], "nice": false}, "axis": {"values": [0,0.5,1,1.5,2], "format": ".1f", "title": "Relative expression"}},
       "stroke": {"field": "g", "type": "nominal", "scale": {"domain": ["DMSO","Ibuprofen","Meloxicam"], "range": ["#2E6DB4","#A22BA6","#6AAC3C"]}, "legend": null}}},
     {"data": {"name": "pts"}, "transform": [{"filter": "datum.p == 'H'"}], "mark": {"type": "circle", "size": 20, "opacity": 1},
      "encoding": {"x": {"field": "g", "type": "nominal", "axis": {"orient": "top", "domain": false, "ticks": false, "labels": false, "title": "Kidney:", "titleFontSize": 15.5, "titleX": 60, "titleY": -22, "titleAlign": "right", "titleBaseline": "alphabetic"}},
       "xOffset": {"field": "r", "type": "nominal", "scale": {"domain": [1,2,3], "paddingOuter": 0.3}}, "y": {"field": "v", "type": "quantitative", "axis": null},
       "fill": {"field": "g", "type": "nominal", "scale": {"domain": ["DMSO","Ibuprofen","Meloxicam"], "range": ["#8FB5E3","#EA98EA","#AED686"]}, "legend": null}}},
     {"data": {"name": "bars"}, "transform": [{"filter": "datum.p == 'H'"}], "mark": {"type": "rule", "strokeWidth": 1.8},
      "encoding": {"x": {"field": "g", "type": "nominal", "axis": {"orient": "top", "domain": false, "ticks": false, "labels": false, "title": "H", "titleFontSize": 17, "titleX": -61, "titleY": -23, "titleAlign": "left", "titleBaseline": "alphabetic"}}, "y": {"field": "lo", "type": "quantitative", "axis": null}, "y2": {"field": "hi"},
       "color": {"field": "g", "type": "nominal", "scale": {"domain": ["DMSO","Ibuprofen","Meloxicam"], "range": ["#2E6DB4","#A22BA6","#6AAC3C"]}, "legend": null}}},
     {"data": {"name": "bars"}, "transform": [{"filter": "datum.p == 'H'"}, {"fold": ["lo","hi"], "as": ["cap","cv"]}], "mark": {"type": "tick", "orient": "horizontal", "size": 12, "thickness": 1.8},
      "encoding": {"x": {"field": "g", "type": "nominal", "axis": null}, "y": {"field": "cv", "type": "quantitative", "axis": null},
       "color": {"field": "g", "type": "nominal", "scale": {"domain": ["DMSO","Ibuprofen","Meloxicam"], "range": ["#2E6DB4","#A22BA6","#6AAC3C"]}, "legend": null}}},
     {"data": {"name": "sig"}, "transform": [{"filter": "datum.p == 'H'"}], "mark": {"type": "rule", "color": "black", "strokeWidth": 2.8},
      "encoding": {"x": {"field": "g1", "type": "nominal", "axis": {"orient": "top", "domain": false, "ticks": false, "labels": false, "title": "Ace2", "titleFontSize": 15.5, "titleFontStyle": "italic", "titleX": 64, "titleY": -22, "titleAlign": "left", "titleBaseline": "alphabetic"}}, "x2": {"field": "g2"}, "y": {"field": "y", "type": "quantitative", "axis": null}}},
     {"data": {"name": "sig"}, "transform": [{"filter": "datum.p == 'H' && datum.k == 'w'"}], "mark": {"type": "text", "font": "Liberation Sans", "fontSize": 14, "baseline": "alphabetic", "dy": -7, "color": "black"},
      "encoding": {"x": {"field": "gm", "type": "nominal", "axis": null}, "y": {"field": "y", "type": "quantitative", "axis": null}, "text": {"field": "t"}}},
     {"data": {"name": "sig"}, "transform": [{"filter": "datum.p == 'H' && datum.k == 'n'"}], "mark": {"type": "text", "font": "Liberation Sans", "fontSize": 14, "baseline": "alphabetic", "dy": -7, "dx": 17, "color": "black"},
      "encoding": {"x": {"field": "gm", "type": "nominal", "axis": null}, "y": {"field": "y", "type": "quantitative", "axis": null}, "text": {"field": "t"}}}
    ]},
   {"width": 118, "height": 174, "resolve": {"axis": {"x": "independent", "y": "independent"}},
    "layer": [
     {"data": {"name": "bars"}, "transform": [{"filter": "datum.p == 'I'"}], "mark": {"type": "bar", "fill": "white", "strokeWidth": 2.8},
      "encoding": {"x": {"field": "g", "type": "nominal", "scale": {"domain": ["DMSO","Ibuprofen","Meloxicam"], "paddingInner": 0.4, "paddingOuter": 0.38}, "axis": {"title": null, "labelAngle": -45, "labelAlign": "right", "labelBaseline": "middle", "tickSize": 6, "labelPadding": 3}},
       "y": {"field": "m", "type": "quantitative", "scale": {"domain": [0,2.5], "nice": false}, "axis": {"values": [0,0.5,1,1.5,2,2.5], "format": ".1f", "title": "Relative expression"}},
       "stroke": {"field": "g", "type": "nominal", "scale": {"domain": ["DMSO","Ibuprofen","Meloxicam"], "range": ["#2E6DB4","#A22BA6","#6AAC3C"]}, "legend": null}}},
     {"data": {"name": "pts"}, "transform": [{"filter": "datum.p == 'I'"}], "mark": {"type": "circle", "size": 20, "opacity": 1},
      "encoding": {"x": {"field": "g", "type": "nominal", "axis": {"orient": "top", "domain": false, "ticks": false, "labels": false, "title": "Ileum:", "titleFontSize": 15.5, "titleX": 56, "titleY": -22, "titleAlign": "right", "titleBaseline": "alphabetic"}},
       "xOffset": {"field": "r", "type": "nominal", "scale": {"domain": [1,2,3], "paddingOuter": 0.3}}, "y": {"field": "v", "type": "quantitative", "axis": null},
       "fill": {"field": "g", "type": "nominal", "scale": {"domain": ["DMSO","Ibuprofen","Meloxicam"], "range": ["#8FB5E3","#EA98EA","#AED686"]}, "legend": null}}},
     {"data": {"name": "bars"}, "transform": [{"filter": "datum.p == 'I'"}], "mark": {"type": "rule", "strokeWidth": 1.8},
      "encoding": {"x": {"field": "g", "type": "nominal", "axis": {"orient": "top", "domain": false, "ticks": false, "labels": false, "title": "I", "titleFontSize": 17, "titleX": -47, "titleY": -23, "titleAlign": "left", "titleBaseline": "alphabetic"}}, "y": {"field": "lo", "type": "quantitative", "axis": null}, "y2": {"field": "hi"},
       "color": {"field": "g", "type": "nominal", "scale": {"domain": ["DMSO","Ibuprofen","Meloxicam"], "range": ["#2E6DB4","#A22BA6","#6AAC3C"]}, "legend": null}}},
     {"data": {"name": "bars"}, "transform": [{"filter": "datum.p == 'I'"}, {"fold": ["lo","hi"], "as": ["cap","cv"]}], "mark": {"type": "tick", "orient": "horizontal", "size": 12, "thickness": 1.8},
      "encoding": {"x": {"field": "g", "type": "nominal", "axis": null}, "y": {"field": "cv", "type": "quantitative", "axis": null},
       "color": {"field": "g", "type": "nominal", "scale": {"domain": ["DMSO","Ibuprofen","Meloxicam"], "range": ["#2E6DB4","#A22BA6","#6AAC3C"]}, "legend": null}}},
     {"data": {"name": "sig"}, "transform": [{"filter": "datum.p == 'I'"}], "mark": {"type": "rule", "color": "black", "strokeWidth": 2.8},
      "encoding": {"x": {"field": "g1", "type": "nominal", "axis": {"orient": "top", "domain": false, "ticks": false, "labels": false, "title": "Ace2", "titleFontSize": 15.5, "titleFontStyle": "italic", "titleX": 60, "titleY": -22, "titleAlign": "left", "titleBaseline": "alphabetic"}}, "x2": {"field": "g2"}, "y": {"field": "y", "type": "quantitative", "axis": null}}},
     {"data": {"name": "sig"}, "transform": [{"filter": "datum.p == 'I' && datum.k == 'w'"}], "mark": {"type": "text", "font": "Liberation Sans", "fontSize": 14, "baseline": "alphabetic", "dy": -7, "color": "black"},
      "encoding": {"x": {"field": "gm", "type": "nominal", "axis": null}, "y": {"field": "y", "type": "quantitative", "axis": null}, "text": {"field": "t"}}},
     {"data": {"name": "sig"}, "transform": [{"filter": "datum.p == 'I' && datum.k == 'n'"}], "mark": {"type": "text", "font": "Liberation Sans", "fontSize": 14, "baseline": "alphabetic", "dy": -7, "dx": 17, "color": "black"},
      "encoding": {"x": {"field": "gm", "type": "nominal", "axis": null}, "y": {"field": "y", "type": "quantitative", "axis": null}, "text": {"field": "t"}}}
    ]}
  ]}
 ]}
 ]}
 ]}
]
}
